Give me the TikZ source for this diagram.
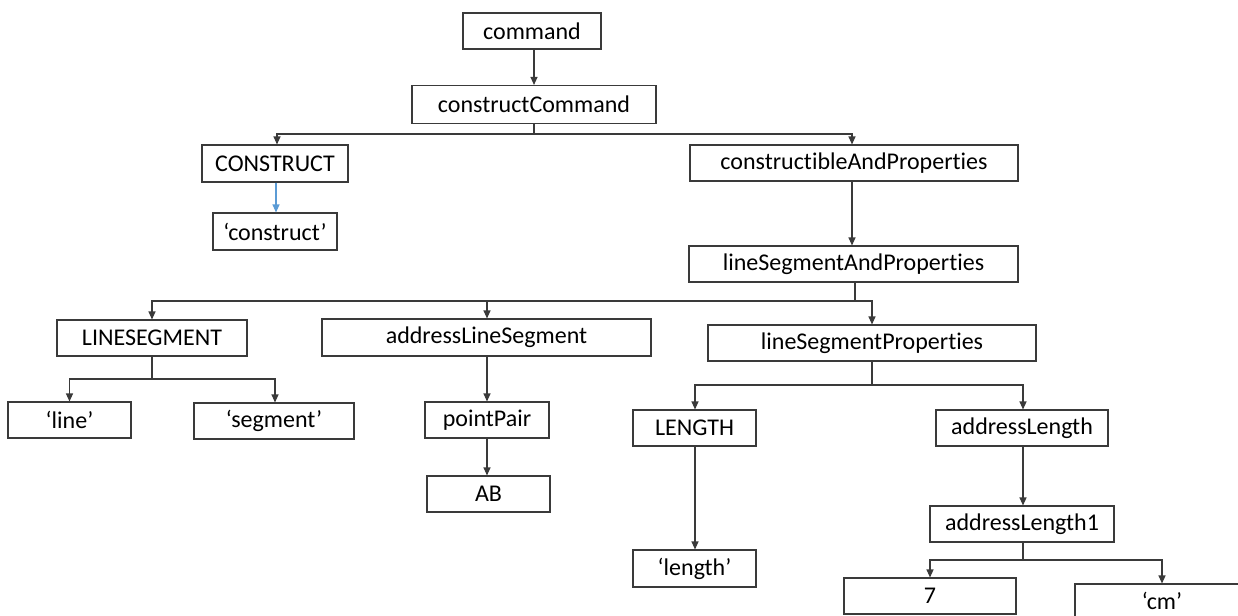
\documentclass[tikz,border=0pt]{standalone}
\usepackage{fontspec}
\setmainfont{Carlito}[Ligatures={NoCommon}]
\usetikzlibrary{arrows.meta}
\definecolor{edge}{HTML}{3A3A3A}
\definecolor{blueline}{HTML}{5B9BD5}
\tikzset{
  box/.style={draw=edge, line width=1.1pt, fill=white, inner sep=0pt,
    minimum height=36pt, font=\fontsize{24}{28}\selectfont, text=black},
  arr/.style={draw=edge, line width=1.1pt, -{Triangle[length=8pt,width=7pt]}},
  ln/.style={draw=edge, line width=1.1pt},
}
\begin{document}
\begin{tikzpicture}[x=1pt,y=-1pt]
\useasboundingbox (0,0) rectangle (1238,615);
\clip (0,0) rectangle (1238,615);
% nodes
\node[box, minimum width=138pt] (command) at (532,31) {command};
\node[box, minimum width=244pt, minimum height=38pt] (cc) at (534,104.5) {constructCommand};
\node[box, minimum width=146pt, minimum height=37pt] (CONS) at (275,163.5) {CONSTRUCT};
\node[box, minimum width=328pt] (cap) at (854,163) {constructibleAndProperties};
\node[box, minimum width=124pt, minimum height=37pt] (cons) at (275,231.5) {‘construct’};
\node[box, minimum width=329pt] (lsap) at (853.5,264) {lineSegmentAndProperties};
\node[box, minimum width=190pt] (LS) at (152,338) {LINESEGMENT};
\node[box, minimum width=329pt, minimum height=37pt] (als) at (486.5,337.5) {addressLineSegment};
\node[box, minimum width=328pt] (lsp) at (872,343) {lineSegmentProperties};
\node[box, minimum width=123pt] (line) at (69.5,420) {‘line’};
\node[box, minimum width=160pt] (seg) at (274,421) {‘segment’};
\node[box, minimum width=124pt] (pp) at (487,420) {pointPair};
\node[box, minimum width=123pt] (AB) at (488.5,494) {AB};
\node[box, minimum width=123pt] (LEN) at (694.5,428) {LENGTH};
\node[box, minimum width=172pt] (al) at (1022,428) {addressLength};
\node[box, minimum width=123pt, minimum height=37pt] (len) at (694.5,568.5) {‘length’};
\node[box, minimum width=184pt] (al1) at (1022,524) {addressLength1};
\node[box, minimum width=172pt] (seven) at (930,596) {7};
\node[box, minimum width=174pt, minimum height=34pt] (cm) at (1162,601) {‘cm’};
% junctions
\coordinate (j1) at (534,134);
\coordinate (j2) at (855,301);
\coordinate (j3) at (152,379);
\coordinate (j4) at (872,385);
\coordinate (j5) at (1023,560);
% connectors
\draw[arr] (command.south) -- (cc.south |- command.south) -- (cc.north);
\draw[ln] (cc.south) -- (j1);
\draw[arr] (j1) -| ([xshift=2pt]CONS.north);
\draw[arr] (j1) -| ([xshift=-2pt]cap.north);
\draw[draw=blueline, line width=1.1pt, -{Triangle[length=8pt,width=7pt]}] ([xshift=1pt]CONS.south) -- ([xshift=1pt]cons.north);
\draw[arr] ([xshift=-2pt]cap.south) -- ([xshift=-1.5pt]lsap.north);
\draw[ln] ([xshift=1.5pt]lsap.south) -- (j2);
\draw[arr] (j2) -| (LS.north);
\draw[arr] (j2) -| ([xshift=0.5pt]als.north);
\draw[arr] (j2) -| (lsp.north);
\draw[ln] (LS.south) -- (j3);
\draw[arr] (j3) -| (line.north);
\draw[arr] (j3) -| ([xshift=1pt]seg.north);
\draw[arr] ([xshift=0.5pt]als.south) -- (pp.north);
\draw[arr] (pp.south) -- ([xshift=-1.5pt]AB.north);
\draw[ln] (lsp.south) -- (j4);
\draw[arr] (j4) -| ([xshift=0.5pt]LEN.north);
\draw[arr] (j4) -| ([xshift=1pt]al.north);
\draw[arr] ([xshift=0.5pt]LEN.south) -- ([xshift=0.5pt]len.north);
\draw[arr] ([xshift=1pt]al.south) -- ([xshift=1pt]al1.north);
\draw[ln] ([xshift=1pt]al1.south) -- (j5);
\draw[arr] (j5) -| (seven.north);
\draw[arr] (j5) -| (cm.north);
\end{tikzpicture}
\end{document}
